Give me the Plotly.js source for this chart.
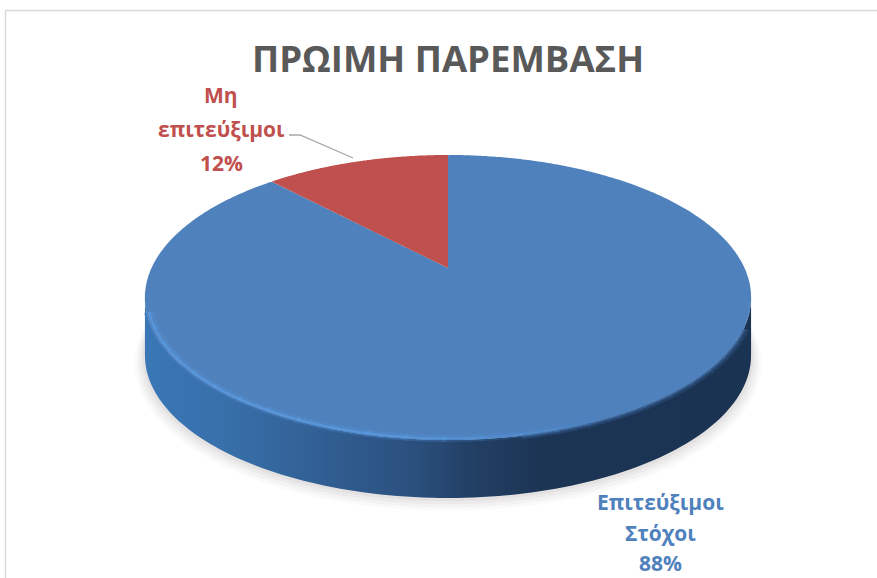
<!DOCTYPE html>
<html><head><meta charset="utf-8">
<script src="https://cdn.plot.ly/plotly-3.0.1.min.js"></script>
<style>html,body{margin:0;padding:0;background:#fff}#c{width:877px;height:578px}</style>
</head><body><div id="c"></div>
<script>
const categories = ["Επιτεύξιμοι Στόχοι", "Μη επιτεύξιμοι"];
const shares = [88, 12];
const sliceColors = ["#4F81BD", "#C0504D"];
const labelLines = [["Επιτεύξιμοι", "Στόχοι", "88%"], ["Μη", "επιτεύξιμοι", "12%"]];
const chartTitle = "ΠΡΩΙΜΗ ΠΑΡΕΜΒΑΣΗ";

const W = 877, H = 578, FONT = '"Open Sans", "Noto Sans", sans-serif';
// perspective view of the pie disc
const CX = 448, AY = 268, TILT = 0.207, KX = 296.5, KY = 136.4, DEPTH = 58;
function project(u, v, dy = 0, grow = 1) {
  const w = 1 + TILT * v;
  return [CX + grow * KX * u / w, AY + dy - grow * KY * v / w];
}
const edge = Math.asin(TILT);            // disc angle of the left/right silhouette
function arc(a0, a1, dy = 0, grow = 1, n = 120) {
  const p = [];
  for (let i = 0; i <= n; i++) {
    const a = a0 + (a1 - a0) * i / n;
    p.push(project(Math.cos(a), Math.sin(a), dy, grow));
  }
  return p;
}
const L = Math.PI + edge, R = 2 * Math.PI - edge, NEAR = Math.PI * 1.5;
// side wall outline: silhouette of the extruded disc
const wall = arc(L, R, DEPTH).concat(arc(R, L, 0));
function closed(pts) {
  return { x: pts.map(p => p[0]).concat(pts[0][0]), y: pts.map(p => p[1]).concat(pts[0][1]) };
}
const traces = [];
[[10, 0.03], [7.5, 0.04], [5, 0.05], [2.5, 0.06]].forEach(([g, o]) => {
  const s = arc(0, 2 * Math.PI, DEPTH + g * 0.7, 1 + g / 300, 200);
  traces.push({ type: "scatter", mode: "none", fill: "toself", x: s.map(p => p[0]), y: s.map(p => p[1]),
    fillcolor: "rgba(90,80,80," + o + ")", hoverinfo: "skip", showlegend: false });
});
const w = closed(wall);
traces.push({ type: "scatter", mode: "none", x: w.x, y: w.y, fill: "toself", hoverinfo: "skip", showlegend: false,
  fillgradient: { type: "horizontal", colorscale: [
    [0, "#3A77B6"], [0.14, "#376FA9"], [0.3, "#315E92"], [0.45, "#2A4F7C"], [0.54, "#223F64"], [0.65, "#1C3555"], [1, "#1B3352"]] } });
traces.push({ type: "pie", labels: categories, values: shares, sort: false, direction: "clockwise", rotation: 0,
  marker: { colors: sliceColors, line: { width: 0 } }, textinfo: "none", showlegend: false,
  domain: { x: [0.2, 0.8], y: [0.1, 0.9] } });

const shapes = [
  { type: "rect", xref: "x", yref: "y", x0: 5.5, y0: 10.5, x1: 890, y1: 600, line: { color: "#D9D9D9", width: 1.5 }, layer: "below" }
];
function pathOf(pts) { return "M" + pts.map(p => p[0].toFixed(1) + "," + p[1].toFixed(1)).join("L"); }
function stroke(a0, a1, grow, color, width) {
  shapes.push({ type: "path", xref: "x", yref: "y", layer: "above", path: pathOf(arc(a0, a1, 0, grow, 16)), line: { color, width } });
}
// soft blend between top face and dark wall on the right of the near edge
const blendSteps = 10, blendStart = NEAR + 0.2, blendEnd = R - 0.22;
for (let i = 0; i < blendSteps; i++) {
  const a0 = blendStart + (blendEnd - blendStart) * i / blendSteps, a1 = blendStart + (blendEnd - blendStart) * (i + 1.1) / blendSteps;
  stroke(a0, a1, 1.004, "rgba(62,104,158,0.75)", 2.5);
  stroke(a0, a1, 1.014, "rgba(40,72,115,0.7)", 2.5);
}
// rim highlight on the near-left edge of the disc
const rimSteps = 16, rimStart = L + 0.1, rimEnd = NEAR + 0.4;
for (let i = 0; i < rimSteps; i++) {
  const a0 = rimStart + (rimEnd - rimStart) * i / rimSteps, a1 = rimStart + (rimEnd - rimStart) * (i + 1.1) / rimSteps;
  const fade = i < 10 ? 1 : (rimSteps - i) / 6;
  stroke(a0, a1, 0.985, "rgba(88,150,220," + (0.28 * fade).toFixed(2) + ")", 5);
  stroke(a0, a1, 0.992, "rgba(92,160,232," + (0.6 * fade).toFixed(2) + ")", 2.5);
  stroke(a0, a1, 1.004, "rgba(70,125,190," + (0.45 * fade).toFixed(2) + ")", 2.5);
}
shapes.push({ type: "path", xref: "x", yref: "y", layer: "above", path: "M289,135L300,135L353,158", line: { color: "#A6A6A6", width: 1.3 } });

// data labels, one annotation per line so the leading can follow the reference
const anchors = [[660.5, 502, 30.5], [221, 95, 34]];
const annotations = [];
labelLines.forEach((lines, i) => lines.forEach((t, j) => {
  annotations.push({ xref: "x", yref: "y", x: anchors[i][0], y: anchors[i][1] + j * anchors[i][2], text: "<b>" + t + "</b>",
    showarrow: false, xanchor: "center", yanchor: "middle", font: { family: FONT, size: 21, color: sliceColors[i] } });
}));
annotations.push({ xref: "x", yref: "y", x: 448, y: 58, text: "<b>" + chartTitle + "</b>", showarrow: false,
  xanchor: "center", yanchor: "middle", font: { family: FONT, size: 36.5, color: "#595959" } });

const layout = {
  width: W, height: H, margin: { l: 0, r: 0, t: 0, b: 0 }, paper_bgcolor: "#fff", plot_bgcolor: "#fff", showlegend: false,
  xaxis: { range: [0, W], visible: false, fixedrange: true }, yaxis: { range: [H, 0], visible: false, fixedrange: true },
  shapes, annotations
};
const gd = document.getElementById("c");
Plotly.newPlot(gd, traces, layout, { staticPlot: true, displayModeBar: false }).then(() => {
  // tilt the library's pie slices into the perspective of the disc
  const pieCd = gd.calcdata.find(c => c[0].trace.type === "pie");
  const r = pieCd[0].r;
  gd.querySelectorAll(".slice path.surface").forEach(el => {
    const len = el.getTotalLength(), o = el.getPointAtLength(0), out = [project(0, 0)];
    const n = 720;
    for (let i = 1; i <= n; i++) {
      const q = el.getPointAtLength(len * i / n);
      out.push(project((q.x - o.x) / r, -(q.y - o.y) / r));
    }
    el.setAttribute("d", pathOf(out) + "Z");
    el.style.strokeWidth = "0";
  });
});
</script></body></html>
